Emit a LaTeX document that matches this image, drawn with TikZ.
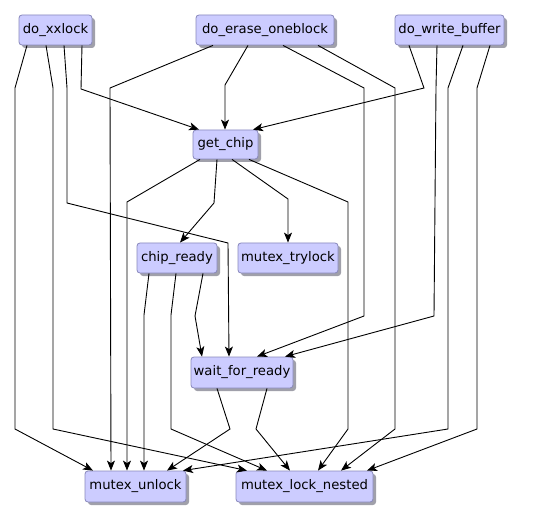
\documentclass[tikz,border=0pt]{standalone}
\usepackage{fontspec}
\setmainfont{DejaVu Sans}
\usetikzlibrary{arrows.meta,shadows}
\definecolor{boxc}{RGB}{204,204,255}
\definecolor{bordc}{RGB}{136,136,187}
\definecolor{shadc}{RGB}{160,160,170}
\tikzset{
  box/.style={draw=bordc, fill=boxc, rounded corners=3pt, line width=0.8pt,
    inner sep=0pt, minimum height=30pt,
    font=\fontsize{13.2}{15}\selectfont,
    drop shadow={shadow xshift=3pt, shadow yshift=-3pt, fill=shadc, opacity=1}},
  edge/.style={line width=0.9pt, -{Stealth[length=10pt,width=8pt,inset=2.5pt]}}
}
\begin{document}
\begin{tikzpicture}[x=1pt,y=-1pt]
\useasboundingbox (0,0) rectangle (542,519);
\node[box, minimum width=73pt]  (xx)  at (55.5,30)  {do\_xxlock};
\node[box, minimum width=138pt] (er)  at (265,30)   {do\_erase\_oneblock};
\node[box, minimum width=109pt] (wb)  at (449.5,30) {do\_write\_buffer};
\node[box, minimum width=65pt, minimum height=29pt] (gc) at (225.5,144.5) {get\_chip};
\node[box, minimum width=80pt]  (cr)  at (177,258)  {chip\_ready};
\node[box, minimum width=100pt] (mt)  at (288,258)  {mutex\_trylock};
\node[box, minimum width=102pt, minimum height=31pt] (wfr) at (242,372.5) {wait\_for\_ready};
\node[box, minimum width=101pt, minimum height=31pt] (mu)  at (135.5,486.5) {mutex\_unlock};
\node[box, minimum width=137pt, minimum height=31pt] (mln) at (304.5,486.5) {mutex\_lock\_nested};

% do_xxlock
\draw[edge] (xx.south -| 27,0) -- (15,88) -- (15,429) -- (mu.north -| 93,0);
\draw[edge] (xx.south -| 46,0) -- (53,88) -- (53,429) -- (mln.north -| 247,0);
\draw[edge] (xx.south -| 64,0) -- (67,88) -- (67,203) -- (228,243) -- (wfr.north -| 229,0);
\draw[edge] (xx.south -| 82,0) -- (81,89) -- (gc.north -| 199,0);
% do_erase_oneblock
\draw[edge] (er.south -| 213,0) -- (110,88) -- (mu.north -| 111,0);
\draw[edge] (er.south -| 248,0) -- (225,85) -- (gc.north -| 225,0);
\draw[edge] (er.south -| 283,0) -- (364,88) -- (364,316) -- (wfr.north -| 257,0);
\draw[edge] (er.south -| 318,0) -- (395,88) -- (395,429) -- (mln.north -| 341,0);
% do_write_buffer
\draw[edge] (wb.south -| 409,0) -- (424,88) -- (gc.north -| 253,0);
\draw[edge] (wb.south -| 437,0) -- (436,88) -- (434,316) -- (wfr.north -| 285,0);
\draw[edge] (wb.south -| 463,0) -- (448,88) -- (448,429) -- (mu.north -| 183,0);
\draw[edge] (wb.south -| 490,0) -- (477,88) -- (477,429) -- (mln.north -| 367,0);
% get_chip
\draw[edge] (gc.south -| 200,0) -- (127,202) -- (mu.north -| 127,0);
\draw[edge] (gc.south -| 217,0) -- (214,203) -- (cr.north -| 180,0);
\draw[edge] (gc.south -| 232,0) -- (288,199) -- (mt.north -| 288,0);
\draw[edge] (gc.south -| 249,0) -- (348,202) -- (348,429) -- (mln.north -| 318,0);
% chip_ready
\draw[edge] (cr.south -| 149,0) -- (144,315) -- (mu.north -| 144,0);
\draw[edge] (cr.south -| 176,0) -- (171,315) -- (171,429) -- (mln.north -| 267,0);
\draw[edge] (cr.south -| 203,0) -- (195,316) -- (wfr.north -| 202,0);
% wait_for_ready
\draw[edge] (wfr.south -| 217,0) -- (230,429) -- (mu.north -| 167,0);
\draw[edge] (wfr.south -| 267,0) -- (256,429) -- (mln.north -| 290,0);
\end{tikzpicture}
\end{document}
